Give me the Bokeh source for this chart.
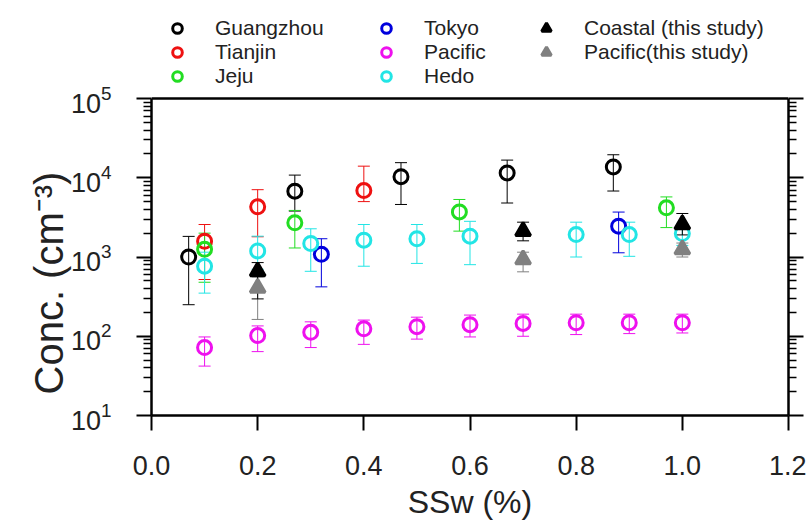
from bokeh.plotting import figure
from bokeh.models import (ColumnDataSource, Whisker, TeeHead, Range1d, LogAxis,
                          FixedTicker, LogTickFormatter, Legend, LegendItem,
                          PrintfTickFormatter, Span, Title)
from bokeh.embed import file_html
from bokeh.resources import INLINE

# ---------------- data ----------------
gz_x = [0.07, 0.27, 0.47, 0.67, 0.87]
gz_y = [1000, 6760, 10300, 11500, 13700]
gz_lo = [250, 3800, 4600, 4800, 6800]
gz_hi = [1820, 10800, 15500, 16700, 19500]

tj_x = [0.1, 0.2, 0.4]
tj_y = [1580, 4300, 6900]
tj_lo = [520, 1800, 5000]
tj_hi = [2570, 7070, 14000]

jj_x = [0.1, 0.27, 0.58, 0.97]
jj_y = [1250, 2700, 3700, 4170]
jj_lo = [480, 1300, 2120, 2350]
jj_hi = [2000, 3870, 5320, 5730]

tk_x = [0.32, 0.88]
tk_y = [1080, 2450]
tk_lo = [420, 1130]
tk_hi = [1700, 3690]

pc_x = [0.1, 0.2, 0.3, 0.4, 0.5, 0.6, 0.7, 0.8, 0.9, 1.0]
pc_y = [72, 102, 112, 124, 132, 140, 145, 148, 148, 148]
pc_lo = [42, 64, 72, 79, 92, 98, 100, 105, 108, 110]
pc_hi = [98, 135, 152, 160, 174, 185, 190, 190, 190, 190]

hd_x = [0.1, 0.2, 0.3, 0.4, 0.5, 0.6, 0.8, 0.9, 1.0]
hd_y = [765, 1190, 1480, 1630, 1700, 1830, 1920, 1920, 1980]
hd_lo = [350, 700, 660, 765, 830, 800, 1000, 1020, 1400]
hd_hi = [1150, 1830, 2270, 2570, 2570, 2820, 2750, 2750, 2600]

co_x = [0.2, 0.7, 1.0]
co_y = [660, 2120, 2570]
co_lo = [296, 1600, 1900]
co_hi = [850, 2750, 3540]

ps_x = [0.2, 0.7, 1.0]
ps_y = [407, 930, 1250]
ps_lo = [163, 650, 1000]
ps_hi = [560, 1150, 1500]

x_ticks = [0.0, 0.2, 0.4, 0.6, 0.8, 1.0, 1.2]
y_ticks = [1e1, 1e2, 1e3, 1e4, 1e5]
y_minor = [m * 10.0 ** e for e in range(1, 5) for m in range(2, 10)]
y_bottom, y_top = 1e1, 1e5

FONT = "Liberation Sans"
TXT = "#222222"

# frame extends above the data box to hold the legend; axes are bounded to 10..1e5
PX_PER_DEC = 79.25
EXTRA_PX = 89
p = figure(frame_width=637, frame_height=317 + EXTRA_PX, y_axis_type="log",
           x_range=Range1d(0, 1.2),
           y_range=Range1d(y_bottom, y_top * 10 ** (EXTRA_PX / PX_PER_DEC)),
           output_backend="svg", toolbar_location=None,
           min_border_left=151, min_border_top=9, min_border_bottom=105,
           min_border_right=18)
p.xgrid.visible = False
p.ygrid.visible = False
p.outline_line_color = None
p.background_fill_color = "white"
p.border_fill_color = "white"

xa = p.xaxis[0]
xa.ticker = FixedTicker(ticks=x_ticks)
xa.formatter = PrintfTickFormatter(format="%.1f")
xa.major_tick_out = 15
xa.major_tick_in = 0
xa.minor_tick_line_color = None
xa.major_tick_line_width = 2
xa.axis_line_width = 2.5
xa.major_label_text_font = FONT
xa.major_label_text_font_size = "27px"
xa.major_label_text_color = TXT
xa.major_label_standoff = 25
xa.axis_label = "SSw (%)"
xa.axis_label_text_font = FONT
xa.axis_label_text_font_size = "32px"
xa.axis_label_text_font_style = "normal"
xa.axis_label_text_color = TXT
xa.axis_label_standoff = 6


def style_y(ax):
    ax.ticker = FixedTicker(ticks=y_ticks, minor_ticks=y_minor)
    ax.bounds = (y_bottom, y_top)
    ax.major_tick_out = 15
    ax.major_tick_in = 0
    ax.minor_tick_out = 8
    ax.minor_tick_in = 0
    ax.major_tick_line_width = 2
    ax.minor_tick_line_width = 1.5
    ax.axis_line_width = 2.5


ya = p.yaxis[0]
style_y(ya)
ya.formatter = LogTickFormatter()
ya.major_label_text_font = FONT
ya.major_label_text_font_size = "27px"
ya.major_label_text_color = TXT
ya.major_label_standoff = 25

ra = LogAxis()
style_y(ra)
ra.major_label_overrides = {t: "" for t in y_ticks}
ra.major_label_standoff = 0
p.add_layout(ra, "right")

# top edge of the data box
p.add_layout(Span(location=y_top, dimension="width", line_color="black", line_width=2.5))

# y-axis title
p.add_layout(Title(text="Conc. (cm\u207b\u00b3)", align="left", offset=21,
                   vertical_align="top",
                   text_font=FONT, text_font_size="40px", text_font_style="normal",
                   text_color=TXT, standoff=-10), "left")


def series(x, y, lo, hi, color, marker, size, fill, lw):
    src = ColumnDataSource(dict(x=x, y=y, lo=lo, hi=hi))
    w = Whisker(source=src, base="x", lower="lo", upper="hi", dimension="height",
                line_color=color, line_width=1,
                upper_head=TeeHead(size=12, line_color=color, line_width=1),
                lower_head=TeeHead(size=12, line_color=color, line_width=1))
    p.add_layout(w)
    return p.scatter("x", "y", source=src, marker=marker, size=size,
                     fill_color=fill, line_color=color, line_width=lw)


r_gz = series(gz_x, gz_y, gz_lo, gz_hi, "#000000", "circle", 14, None, 3)
r_tj = series(tj_x, tj_y, tj_lo, tj_hi, "#ee1111", "circle", 14, None, 3)
r_jj = series(jj_x, jj_y, jj_lo, jj_hi, "#22dd22", "circle", 14, None, 3)
r_tk = series(tk_x, tk_y, tk_lo, tk_hi, "#0000dd", "circle", 14, None, 3)
r_pc = series(pc_x, pc_y, pc_lo, pc_hi, "#ee11ee", "circle", 14, None, 3)
r_hd = series(hd_x, hd_y, hd_lo, hd_hi, "#22e5e5", "circle", 14, None, 3)
r_ps = series(ps_x, ps_y, ps_lo, ps_hi, "#808080", "triangle", 15, "#808080", 3)
r_co = series(co_x, co_y, co_lo, co_hi, "#000000", "triangle", 15, "#000000", 3)


def make_legend(items, loc):
    lg = Legend(items=[LegendItem(label=t, renderers=[r]) for t, r in items],
                location=loc, orientation="vertical",
                border_line_color=None, background_fill_alpha=0,
                padding=0, margin=0, spacing=0,
                glyph_width=24, glyph_height=24, label_standoff=26,
                label_text_font=FONT, label_text_font_size="21px",
                label_text_color=TXT)
    p.add_layout(lg)


make_legend([("Guangzhou", r_gz), ("Tianjin", r_tj), ("Jeju", r_jj)], (14, 327))
make_legend([("Tokyo", r_tk), ("Pacific", r_pc), ("Hedo", r_hd)], (223, 327))
make_legend([("Coastal (this study)", r_co), ("Pacific(this study)", r_ps)], (383, 351))

open("out.html", "w").write(file_html(p, INLINE))
